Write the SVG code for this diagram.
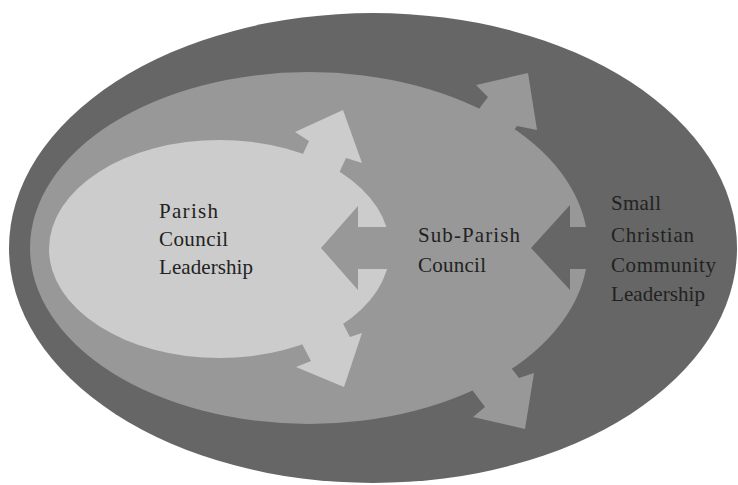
<svg xmlns="http://www.w3.org/2000/svg" width="738" height="485" viewBox="0 0 738 485">
  <style>
    .dark { fill: #666666; }
    .mid { fill: #989898; }
    .light { fill: #cccccc; }
    .label { font-family: "Liberation Serif", "DejaVu Serif", serif; font-size: 21px; fill: #222222; }
  </style>
  <rect width="738" height="485" fill="#ffffff"/>

  <!-- Outermost ring: Small Christian Community leadership -->
  <g id="scc-leadership">
    <ellipse class="dark" cx="373" cy="248" rx="364" ry="235"/>
    <text class="label" x="611" y="210" textLength="50" lengthAdjust="spacing">Small</text>
    <text class="label" x="611" y="242" textLength="83" lengthAdjust="spacing">Christian</text>
    <text class="label" x="611" y="272" textLength="105" lengthAdjust="spacing">Community</text>
    <text class="label" x="611" y="301" textLength="94" lengthAdjust="spacing">Leadership</text>
  </g>

  <!-- Middle ring: Sub-Parish council -->
  <g id="sub-parish-council">
    <ellipse class="mid" cx="309" cy="248" rx="279" ry="176"/>
    <text class="label" x="418" y="242" textLength="102" lengthAdjust="spacing">Sub-Parish</text>
    <text class="label" x="418" y="272" textLength="68" lengthAdjust="spacing">Council</text>
  </g>

  <!-- Core: Parish council leadership -->
  <g id="parish-council">
    <ellipse class="light" cx="219.5" cy="249" rx="170.5" ry="109"/>
    <text class="label" x="159" y="218" textLength="59" lengthAdjust="spacing">Parish</text>
    <text class="label" x="159" y="246" textLength="69" lengthAdjust="spacing">Council</text>
    <text class="label" x="159" y="274" textLength="94" lengthAdjust="spacing">Leadership</text>
  </g>

  <!-- Block arrows: outward flows and inward feedback between the rings -->
  <g id="connectors">
    <!-- parish -> sub-parish (upper) -->
    <polygon class="light" points="343,110 362,163 346,158 327,199 290,182 309,141 295,132"/>
    <!-- parish -> sub-parish (lower) -->
    <polygon class="light" points="344,387 296,367 311,361 290,321 329,297 350,337 362,333"/>
    <!-- sub-parish -> parish -->
    <polygon class="mid" points="321,248 358,206 358,227 400,227 400,269 358,269 358,290"/>
    <!-- sub-parish -> SCC (upper) -->
    <polygon class="mid" points="528,73 537,130 517,126 487,166 458,137 488,97 476,85"/>
    <!-- sub-parish -> SCC (lower) -->
    <polygon class="mid" points="525,429 473,417 485,407 455,367 488,338 519,378 534,373"/>
    <!-- SCC -> sub-parish -->
    <polygon class="dark" points="531,248 570,205 570,227 598,227 598,269 570,269 570,290"/>
  </g>
</svg>
